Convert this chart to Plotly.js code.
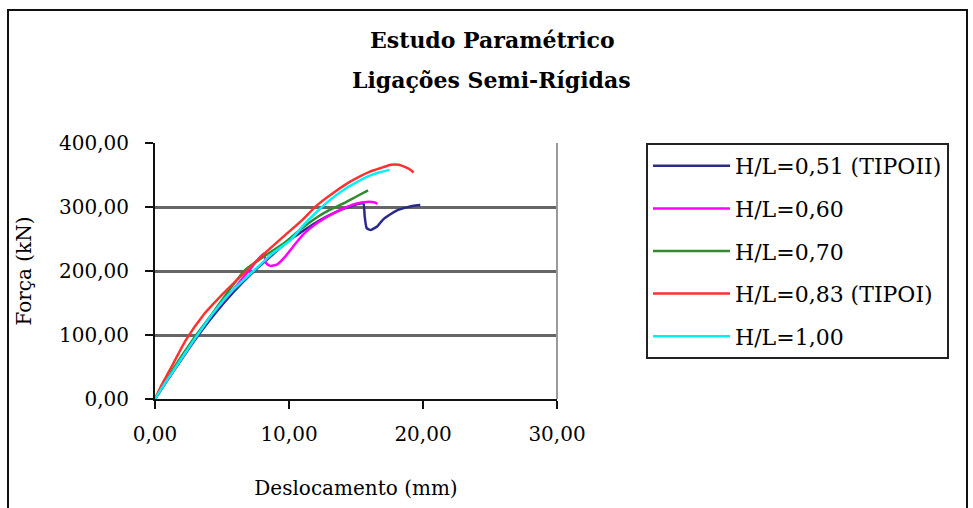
<!DOCTYPE html>
<html>
<head>
<meta charset="utf-8">
<script src="https://cdn.plot.ly/plotly-3.0.1.min.js"></script>
<style>
  html, body { margin: 0; padding: 0; background: #fff; }
  #wrap { position: relative; width: 973px; height: 508px; overflow: hidden; }
  #chart { width: 973px; height: 508px; }
  #frame { position: absolute; left: 7px; top: 9px; width: 961px; height: 520px;
           border: 2px solid #111; pointer-events: none; box-sizing: border-box; }
</style>
</head>
<body>
<div id="wrap">
  <div id="chart"></div>
  <div id="frame"></div>
</div>
<script>
// Series names
const seriesNames = ['H/L=0,51 (TIPOII)', 'H/L=0,60', 'H/L=0,70', 'H/L=0,83 (TIPOI)', 'H/L=1,00'];

// H/L = 0,51 (TIPO II)
const x051 = [0, 0.6, 1.4, 2.9, 4.5, 5.9, 7.3, 8.8, 10.0, 10.8, 11.8, 12.8, 13.7, 14.6, 15.2, 15.55, 15.65, 15.8, 16.1, 16.6, 17.0, 17.6, 18.1, 18.7, 19.3, 19.8];
const y051 = [0, 19, 44, 90, 134, 168, 198, 226, 248, 259, 273, 285, 294, 301, 305, 306, 285, 267, 264, 270, 280, 289, 295, 299, 302, 303];

// H/L = 0,60
const x060 = [0, 0.6, 1.4, 2.9, 4.4, 5.8, 7.1, 8.1, 8.3, 8.6, 9.1, 9.7, 10.3, 11.1, 12.1, 13.6, 15.0, 15.8, 16.4, 16.6];
const y060 = [0, 20, 45, 92, 136, 170, 203, 227, 212, 208, 210, 222, 238, 258, 275, 293, 305, 308, 307, 305];

// H/L = 0,70
const x070 = [0, 0.6, 1.3, 2.8, 4.3, 5.6, 6.7, 8.0, 9.6, 10.8, 12.1, 13.0, 14.1, 15.0, 15.9];
const y070 = [0, 20, 45, 92, 134, 172, 201, 221, 243, 264, 284, 295, 306, 316, 326];

// H/L = 0,83 (TIPO I)
const x083 = [0, 0.5, 1.1, 2.3, 3.6, 5.1, 6.6, 8.1, 9.6, 11.0, 12.1, 13.3, 14.6, 16.0, 17.0, 17.6, 18.2, 18.6, 19.0, 19.3];
const y083 = [0, 22, 45, 92, 131, 165, 196, 226, 254, 280, 303, 322, 340, 355, 362, 366, 366, 363, 359, 354];

// H/L = 1,00
const x100 = [0, 0.6, 1.4, 2.9, 4.4, 5.8, 7.3, 8.8, 10.1, 11.1, 12.1, 13.0, 14.1, 15.0, 15.8, 16.7, 17.5];
const y100 = [0, 20, 45, 92, 136, 170, 199, 228, 248, 272, 293, 310, 327, 338, 347, 354, 358];

// Tick values and labels
const xTickVals = [0, 10, 20, 30];
const xTickText = ['0,00', '10,00', '20,00', '30,00'];
const yTickVals = [0, 100, 200, 300, 400];
const yTickText = ['0,00', '100,00', '200,00', '300,00', '400,00'];

const colors = ['#2a2a8c', '#ff00ff', '#2e8b2e', '#ff3030', '#00f0f8'];
const xs = [x051, x060, x070, x083, x100];
const ys = [y051, y060, y070, y083, y100];

const FONT = '"DejaVu Serif", "Liberation Serif", serif';

const traces = seriesNames.map((n, i) => ({
  type: 'scatter', mode: 'lines', name: n,
  x: xs[i], y: ys[i],
  line: { color: colors[i], width: 2.5, shape: 'spline', smoothing: 0.5 },
  legendgroup: 'g' + i
}));

const layout = {
  width: 973, height: 508,
  margin: { l: 155, r: 416, t: 143, b: 109 },
  paper_bgcolor: '#ffffff', plot_bgcolor: '#ffffff',
  font: { family: FONT, color: '#000', size: 20 },
  title: {
    text: '<b>Estudo Paramétrico</b>',
    font: { family: FONT, size: 22, color: '#000' },
    x: 0.506, xref: 'container', xanchor: 'center',
    y: 0.921, yref: 'container', yanchor: 'middle'
  },
  annotations: [{
    text: '<b>Ligações Semi-Rígidas</b>',
    xref: 'paper', yref: 'paper', x: 0.838, y: 1.246,
    xanchor: 'center', yanchor: 'middle', showarrow: false,
    font: { family: FONT, size: 22, color: '#000' }
  }],
  xaxis: {
    range: [0, 30], tickvals: xTickVals, ticktext: xTickText,
    showgrid: false, zeroline: false,
    showline: true, linecolor: '#111', linewidth: 2,
    ticks: 'outside', ticklen: 8, tickwidth: 2, tickcolor: '#111',
    ticklabelstandoff: 8,
    tickfont: { family: FONT, size: 20, color: '#000' },
    title: { text: 'Deslocamento (mm)', standoff: 36, font: { family: FONT, size: 20, color: '#000' } },
    fixedrange: true
  },
  yaxis: {
    range: [0, 400], tickvals: yTickVals, ticktext: yTickText,
    showgrid: true, gridcolor: '#666666', gridwidth: 3, zeroline: false,
    showline: true, linecolor: '#111', linewidth: 2,
    ticks: 'outside', ticklen: 8, tickwidth: 2, tickcolor: '#111',
    ticklabelstandoff: 12,
    tickfont: { family: FONT, size: 20, color: '#000' },
    title: { text: 'Força (kN)', standoff: 22, font: { family: FONT, size: 20, color: '#000' } },
    fixedrange: true
  },
  shapes: [{
    type: 'line', xref: 'paper', yref: 'paper', x0: 1, x1: 1, y0: 0, y1: 1,
    line: { color: '#9a9a9a', width: 2 }
  }],
  showlegend: true,
  legend: {
    x: 1.2214, y: 1, xanchor: 'left', yanchor: 'top',
    bgcolor: '#ffffff', bordercolor: '#222', borderwidth: 2,
    font: { family: FONT, size: 22, color: '#000' },
    tracegroupgap: 11, itemwidth: 77
  }
};

Plotly.newPlot('chart', traces, layout, { displayModeBar: false, staticPlot: true });
</script>
</body>
</html>
